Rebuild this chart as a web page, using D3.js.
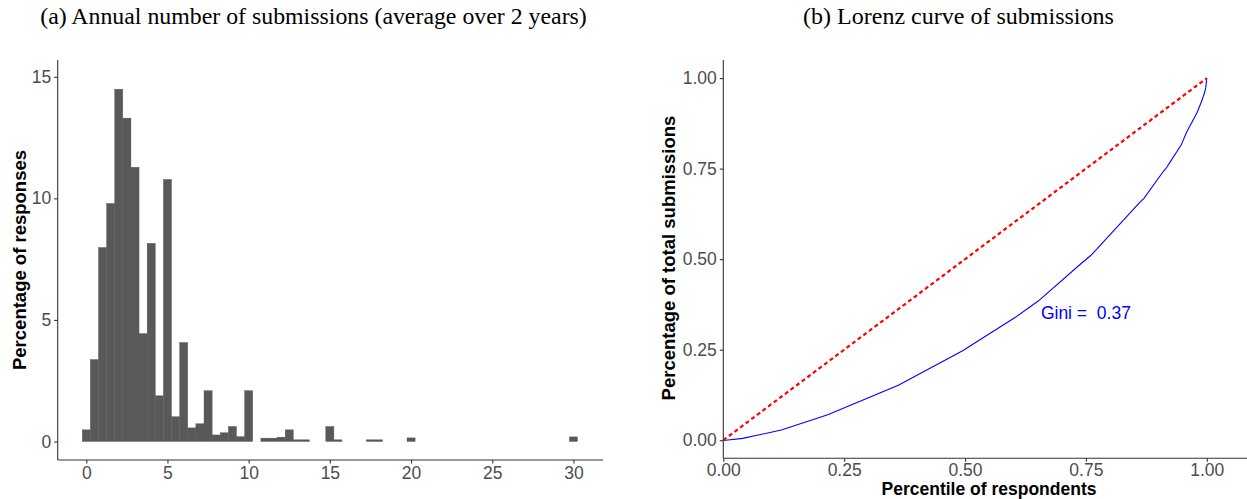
<!DOCTYPE html>
<html>
<head>
<meta charset="utf-8">
<script src="https://cdn.jsdelivr.net/npm/d3@7"></script>
<style>
  html, body { margin: 0; padding: 0; background: #fff; }
  svg { display: block; }
</style>
</head>
<body>
<svg id="fig" width="1247" height="499"></svg>
<script>
// Histogram: annual submissions (bin midpoints, step 0.5) and share of responses (%)
const binMid = [0, 0.5, 1, 1.5, 2, 2.5, 3, 3.5, 4, 4.5, 5, 5.5, 6, 6.5, 7, 7.5, 8, 8.5, 9, 9.5,
                10, 11, 11.5, 12, 12.5, 13, 13.5, 15, 15.5, 17.5, 18, 20, 30];
const binPct = [0.48, 3.37, 7.98, 9.79, 14.49, 13.30, 11.28, 4.44, 8.15, 1.88, 10.78, 1.02, 4.07, 0.56, 0.73, 2.09, 0.27, 0.36, 0.62, 0.20,
                2.09, 0.14, 0.14, 0.18, 0.48, 0.07, 0.07, 0.62, 0.07, 0.07, 0.07, 0.15, 0.19];
const histXTicks = [0, 5, 10, 15, 20, 25, 30];
const histYTicks = [0, 5, 10, 15];

// Lorenz curve: cumulative share of respondents vs cumulative share of submissions
const lorenzPop = [0, 0.005, 0.04, 0.12, 0.216, 0.362, 0.495, 0.605, 0.652, 0.742, 0.76, 0.86, 0.87, 0.91, 0.917, 0.925, 0.947, 0.958, 0.98, 0.99, 0.996, 0.998, 1];
const lorenzSub = [0, 0, 0.005, 0.028, 0.07, 0.152, 0.247, 0.34, 0.385, 0.49, 0.51, 0.655, 0.668, 0.742, 0.753, 0.77, 0.815, 0.85, 0.905, 0.938, 0.963, 0.975, 1];
const equalityLine = [0, 1];
const lorenzTicks = [0, 0.25, 0.5, 0.75, 1];
const giniLabel = "Gini =  0.37";
const giniPos = [0.75, 0.35];

const svg = d3.select("#fig");
svg.append("rect").attr("width", 1247).attr("height", 499).attr("fill", "#fff");

const sans = "'Liberation Sans', Arial, Helvetica, sans-serif";
const serif = "'Liberation Serif', 'Times New Roman', serif";
const tickColor = "#4d4d4d";
const axisColor = "#333";

// ---------- Titles ----------
const titleA = svg.append("text")
  .attr("x", 313.5).attr("y", 24).attr("text-anchor", "middle")
  .attr("font-family", serif).attr("font-size", 19).attr("fill", "#000")
  .text("(a) Annual number of submissions (average over 2 years)");
const titleB = svg.append("text")
  .attr("x", 958.5).attr("y", 24).attr("text-anchor", "middle")
  .attr("font-family", serif).attr("font-size", 19).attr("fill", "#000")
  .text("(b) Lorenz curve of submissions");
// fit the serif titles to their set width
[[titleA, 547], [titleB, 311]].forEach(([t, w]) => {
  const len = t.node().getComputedTextLength();
  if (len > 0) t.attr("font-size", 19 * w / len);
});

// ---------- Panel (a): histogram ----------
const hx = d3.scaleLinear().domain([-1.76, 31.82]).range([57.7, 603]);
const hy = d3.scaleLinear().domain([-0.76, 15.69]).range([460, 60]);

const gA = svg.append("g");
gA.selectAll("rect.bar")
  .data(binMid.map((m, i) => ({ m, v: binPct[i] })))
  .join("rect")
  .attr("class", "bar")
  .attr("x", d => hx(d.m - 0.25))
  .attr("width", d => hx(d.m + 0.25) - hx(d.m - 0.25))
  .attr("y", d => hy(d.v))
  .attr("height", d => hy(0) - hy(d.v))
  .attr("fill", "#595959")
  .attr("stroke", "#595959")
  .attr("stroke-width", 0.4);

const axA_x = gA.append("g").attr("transform", "translate(0,460)")
  .call(d3.axisBottom(hx).tickValues(histXTicks).tickSize(3.5).tickPadding(3).tickFormat(d3.format("d")));
const axA_y = gA.append("g").attr("transform", "translate(57.7,0)")
  .call(d3.axisLeft(hy).tickValues(histYTicks).tickSize(3.5).tickPadding(3).tickFormat(d3.format("d")));

gA.append("text")
  .attr("transform", "translate(25.5,260) rotate(-90)")
  .attr("text-anchor", "middle")
  .attr("font-family", sans).attr("font-weight", "bold").attr("font-size", 18.5)
  .attr("fill", "#000")
  .text("Percentage of responses");

// ---------- Panel (b): Lorenz curve ----------
const lx = d3.scaleLinear().domain([0, 1.0832]).range([723.3, 1247]);
const ly = d3.scaleLinear().domain([-0.05, 1.05]).range([458.3, 60]);

const gB = svg.append("g");

gB.append("path")
  .datum(lorenzPop.map((p, i) => [p, lorenzSub[i]]))
  .attr("fill", "none").attr("stroke", "#0000ff").attr("stroke-width", 1.1)
  .attr("d", d3.line().x(d => lx(d[0])).y(d => ly(d[1])));

gB.append("path")
  .datum(equalityLine.map(v => [v, v]))
  .attr("fill", "none").attr("stroke", "#ff0000").attr("stroke-width", 2.2)
  .attr("stroke-dasharray", "4,3")
  .attr("d", d3.line().x(d => lx(d[0])).y(d => ly(d[1])));

gB.append("text")
  .attr("x", lx(giniPos[0])).attr("y", ly(giniPos[1]))
  .attr("text-anchor", "middle").attr("dominant-baseline", "central")
  .attr("font-family", sans).attr("font-size", 17.5).attr("fill", "#0000ff")
  .attr("xml:space", "preserve").style("white-space", "pre")
  .text(giniLabel);

const fmt2 = d3.format(".2f");
const axB_x = gB.append("g").attr("transform", "translate(0,458.3)")
  .call(d3.axisBottom(lx).tickValues(lorenzTicks).tickSize(3.5).tickPadding(2).tickFormat(fmt2));
const axB_y = gB.append("g").attr("transform", "translate(723.3,0)")
  .call(d3.axisLeft(ly).tickValues(lorenzTicks).tickSize(3.5).tickPadding(3).tickFormat(fmt2));

gB.append("text")
  .attr("transform", "translate(675,258) rotate(-90)")
  .attr("text-anchor", "middle")
  .attr("font-family", sans).attr("font-weight", "bold").attr("font-size", 18.5)
  .attr("fill", "#000")
  .text("Percentage of total submissions");

gB.append("text")
  .attr("x", 989).attr("y", 494.8)
  .attr("text-anchor", "middle")
  .attr("font-family", sans).attr("font-weight", "bold").attr("font-size", 17.5)
  .attr("fill", "#000")
  .text("Percentile of respondents");

// ---------- Shared axis styling ----------
[axA_x, axA_y, axB_x, axB_y].forEach(ax => {
  ax.select(".domain").attr("stroke", axisColor).attr("stroke-width", 1.1);
  ax.selectAll(".tick line").attr("stroke", axisColor).attr("stroke-width", 1.1);
  ax.selectAll(".tick text")
    .attr("font-family", sans).attr("font-size", 17.5).attr("fill", tickColor);
});
// axis lines run the full panel edge without end caps
[axA_x, axB_x].forEach(ax => {
  const r = ax === axA_x ? hx.range() : lx.range();
  ax.select(".domain").attr("d", `M${r[0]},0H${r[1]}`);
});
[axA_y, axB_y].forEach(ax => {
  const r = ax === axA_y ? hy.range() : ly.range();
  ax.select(".domain").attr("d", `M0,${r[0]}V${r[1]}`);
});
</script>
</body>
</html>
